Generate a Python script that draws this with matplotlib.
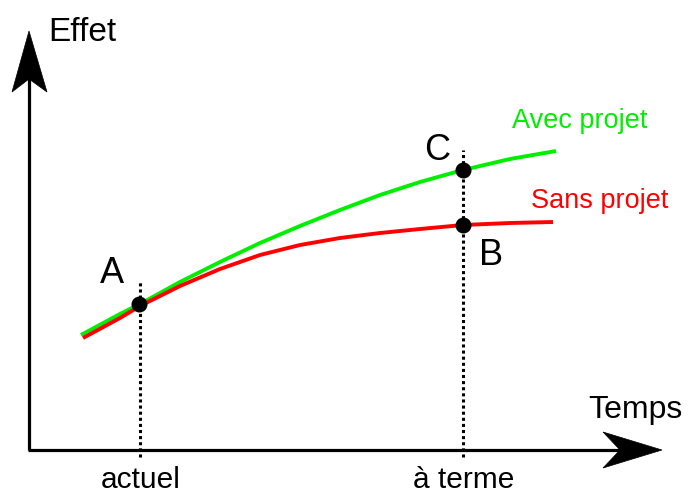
import matplotlib
matplotlib.use("Agg")
import matplotlib.pyplot as plt
from matplotlib.patches import Polygon

plt.rcParams['font.family'] = ['Liberation Sans', 'DejaVu Sans']

# Data (time position, effect value)
green_x = [81, 120, 140, 180, 220, 260, 300, 340, 380, 420, 463, 510, 556]
green_y = [159, 180, 190, 212, 232, 251, 268, 284, 299, 312, 324, 335, 343]
red_x = [83, 120, 140, 180, 220, 260, 300, 340, 380, 420, 463, 510, 553]
red_y = [156, 176, 188, 208, 225, 239, 249, 256, 261, 265, 269, 271, 272]

point_labels = ['A', 'C', 'B']
point_x = [139, 463, 463]
point_y = [190, 324, 269]

tick_labels = ['actuel', 'à terme']
tick_x = [140, 463]

series_labels = ['Avec projet', 'Sans projet']

fig = plt.figure(figsize=(6.88, 4.94), dpi=100)
ax = fig.add_axes([0, 0, 1, 1])
ax.set_xlim(0, 688)
ax.set_ylim(0, 494)
ax.axis('off')

# axes lines
ax.plot([29, 29], [44, 420], color='black', lw=2.3, solid_capstyle='butt')
ax.plot([28, 625], [44, 44], color='black', lw=2.3, solid_capstyle='butt')
ax.add_patch(Polygon([(29, 463), (47, 402), (29, 415), (12, 402)], closed=True,
                     facecolor='black', edgecolor='black', lw=0.5))
ax.add_patch(Polygon([(662, 44), (603, 62), (620, 44), (603, 26)], closed=True,
                     facecolor='black', edgecolor='black', lw=0.5))

# dotted guides
ax.plot([tick_x[0], tick_x[0]], [37, 212], color='black', lw=2.2,
        linestyle=(0, (1, 1)), dash_capstyle='butt')
ax.plot([tick_x[1], tick_x[1]], [37, 344], color='black', lw=2.2,
        linestyle=(0, (1, 1)), dash_capstyle='butt')

# curves
ax.plot(green_x, green_y, color='#00ee00', lw=2.8, solid_capstyle='butt',
        solid_joinstyle='round', zorder=3)
ax.plot(red_x, red_y, color='#ff0000', lw=2.8, solid_capstyle='butt',
        solid_joinstyle='round', zorder=3)

# points
ax.plot(point_x, point_y, 'o', color='black', markersize=10.5, zorder=5)

# texts
ax.text(48, 453, 'Effet', fontsize=24, ha='left', va='baseline')
ax.text(588, 76, 'Temps', fontsize=23, ha='left', va='baseline')
for lab, x in zip(tick_labels, tick_x):
    ax.text(x + 1, 6, lab, fontsize=21.5, ha='center', va='baseline')
ax.text(100, 211, point_labels[0], fontsize=26, ha='left', va='baseline')
ax.text(424, 334, point_labels[1], fontsize=26, ha='left', va='baseline')
ax.text(479, 229, point_labels[2], fontsize=26, ha='left', va='baseline')
ax.text(512, 366, series_labels[0], fontsize=19.5, color='#00ee00', ha='left', va='baseline')
ax.text(531, 286, series_labels[1], fontsize=19.5, color='#ff0000', ha='left', va='baseline')

fig.savefig('out.png', dpi=100)
